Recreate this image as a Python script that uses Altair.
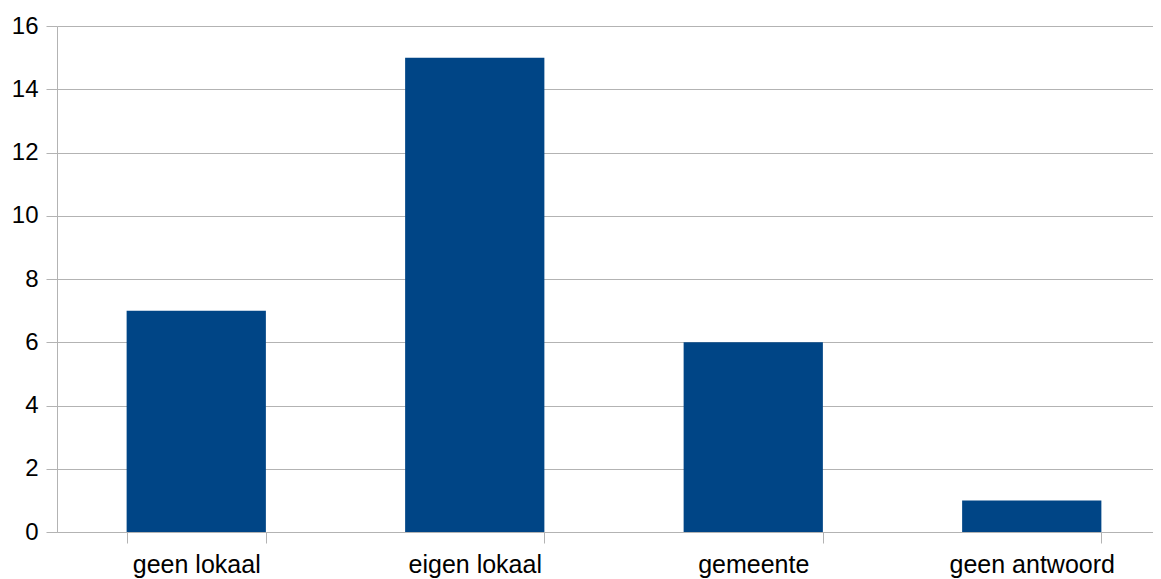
import altair as alt
import pandas as pd

categories = ["geen lokaal", "eigen lokaal", "gemeente", "geen antwoord"]
values = [7, 15, 6, 1]
y_ticks = [0, 2, 4, 6, 8, 10, 12, 14, 16]

df = pd.DataFrame({"cat": categories, "val": values})

chart = alt.Chart(df).mark_bar(color="#004586").encode(
    x=alt.X(
        "cat:N",
        sort=categories,
        title=None,
        scale=alt.Scale(range=[0, 1114], paddingInner=0.5, paddingOuter=0.25),
        axis=alt.Axis(
            labelAngle=0,
            labelFont="Liberation Sans",
            labelFontSize=25,
            labelColor="#000000",
            labelPadding=9,
            tickBand="extent",
            tickSize=11,
            tickColor="#b3b3b3",
            domainColor="#b3b3b3",
            grid=False,
        ),
    ),
    y=alt.Y(
        "val:Q",
        title=None,
        scale=alt.Scale(domain=[0, 16], nice=False),
        axis=alt.Axis(
            values=y_ticks,
            labelFont="Liberation Sans",
            labelFontSize=24,
            labelColor="#000000",
            labelPadding=8,
            tickSize=11,
            tickColor="#b3b3b3",
            domainColor="#b3b3b3",
            gridColor="#b3b3b3",
        ),
    ),
).properties(
    width=1096,
    height=506,
    autosize=alt.AutoSizeParams(type="none"),
    padding={"left": 49, "top": 18, "right": 0, "bottom": 47},
).configure_view(stroke=None).configure_axis(gridWidth=1, domainWidth=1, tickWidth=1)

chart.save("out.html", embed_options={"renderer": "svg", "actions": False})
